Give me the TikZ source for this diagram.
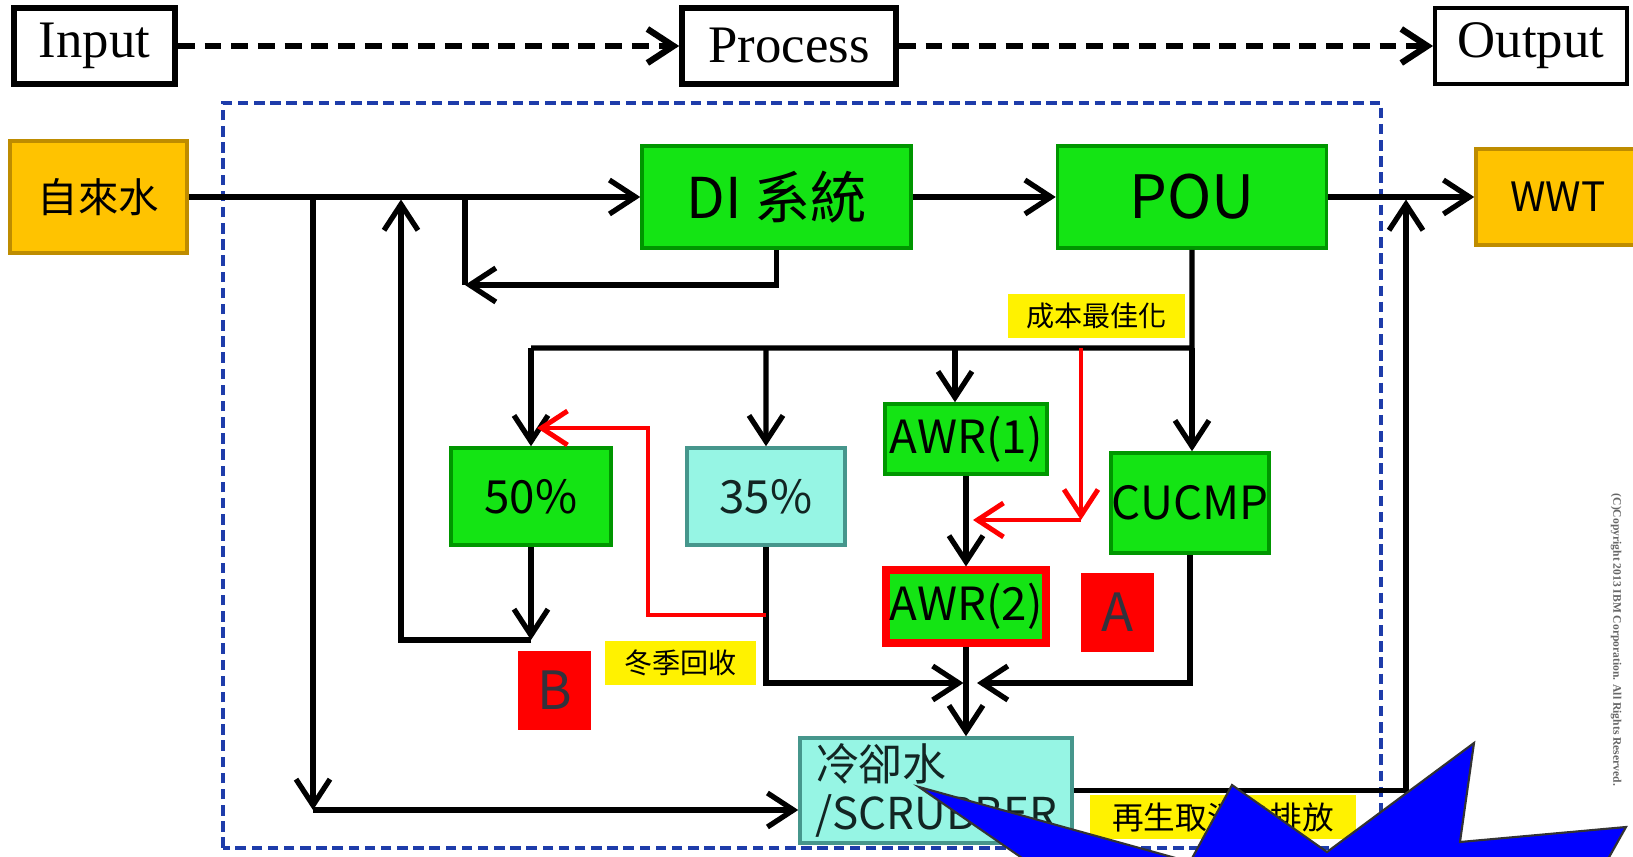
\documentclass[tikz,border=0pt]{standalone}
\usepackage{fontspec}
\setmainfont{Liberation Serif}
\newfontfamily\cjk{Noto Sans CJK TC}
\usetikzlibrary{positioning, arrows.meta}

\definecolor{verdeC}{RGB}{20,228,20}
\definecolor{verdeO}{RGB}{0,150,0}
\definecolor{cianC}{RGB}{150,245,228}
\definecolor{cianO}{RGB}{70,150,140}
\definecolor{oroC}{RGB}{255,195,0}
\definecolor{oroO}{RGB}{190,140,0}
\definecolor{azulM}{RGB}{30,60,170}
\definecolor{grisA}{RGB}{50,50,60}

\begin{document}
\begin{tikzpicture}[>={Straight Barb[length=2.6mm,width=3.4mm]}, line width=1.5pt, on grid]
              \tikzset{
                etapa/.style={draw, line width=1.6pt, inner sep=0pt, minimum height=0.76cm, font=\fontsize{15}{18}\selectfont},
                bloque/.style={draw, line width=1pt, inner sep=0pt, font=\cjk\fontsize{13}{15}\selectfont},
                verde/.style={bloque, fill=verdeC, draw=verdeO},
                cian/.style={bloque, fill=cianC, draw=cianO, text=black!75!cianO},
                oro/.style={bloque, fill=oroC, draw=oroO},
                nota/.style={fill=yellow, inner sep=0pt, minimum height=0.44cm, font=\cjk\fontsize{8}{9}\selectfont},
                marca/.style={fill=red, inner sep=0pt, minimum width=0.73cm, minimum height=0.79cm, text=grisA, font=\cjk\fontsize{15}{17}\selectfont},
                rojo/.style={red, line width=1.4pt}
              }
              \useasboundingbox (0,0) rectangle (16.33,8.57);

              % Fila Input / Process / Output
              \node[etapa, minimum width=1.61cm] (inp) at (0.945,8.11) {Input};
              \node[etapa, minimum width=2.14cm] (proc) [right=6.945cm of inp] {Process};
              \node[etapa, minimum width=1.92cm, line width=1.1pt] (outp) [right=7.42cm of proc] {Output};

              \path[->, dash pattern=on 4.8pt off 2.8pt, line width=1.8pt]
                  (inp) edge (proc)
                  (proc) edge (outp);

              % Marco punteado
              \draw[azulM, line width=1pt, dash pattern=on 3pt off 1.6pt] (2.23,0.09) rectangle (13.81,7.54);

              % Nodos de la fila principal
              \node[oro, minimum width=1.77cm, minimum height=1.12cm, font=\cjk\fontsize{11.5}{13}\selectfont] (agua) at (0.985,6.60) {自來水};
              \node[verde, minimum width=2.69cm, minimum height=1.02cm, font=\cjk\fontsize{16}{18}\selectfont] (di) [right=6.78cm of agua] {DI 系統};
              \node[verde, minimum width=2.69cm, minimum height=1.02cm, font=\cjk\fontsize{17}{19}\selectfont] (pou) [right=4.155cm of di] {POU};
              \node[oro, minimum width=1.64cm, minimum height=0.96cm, font=\cjk\fontsize{11.5}{14}\selectfont] (wwt) [right=3.66cm of pou] {WWT};

              % Nodos intermedios
              \node[verde, minimum width=1.60cm, minimum height=0.97cm] (p50) at (5.31,3.605) {50\%};
              \node[cian, minimum width=1.58cm, minimum height=0.97cm] (p35) [right=2.35cm of p50] {35\%};
              \node[verde, minimum width=1.62cm, minimum height=0.70cm, font=\cjk\fontsize{13}{15}\selectfont] (awr1) at (9.66,4.18) {AWR(1)};
              \node[verde, draw=red, line width=2pt, minimum width=1.60cm, minimum height=0.73cm, font=\cjk\fontsize{13}{15}\selectfont] (awr2) [below=1.675cm of awr1] {AWR(2)};
              \node[verde, minimum width=1.58cm, minimum height=1.00cm, font=\cjk\fontsize{13}{15}\selectfont] (cucmp) at (11.90,3.54) {CUCMP};
              \node[cian, minimum width=2.72cm, minimum height=1.05cm, text width=2.42cm, align=left, font=\cjk\fontsize{12.5}{14}\selectfont] (scrub) at (9.36,0.665) {冷卻水\\/SCRUBBER};

              % Etiquetas
              \node[nota, minimum width=1.77cm] (costo) at (10.965,5.41) {成本最佳化};
              \node[nota, minimum width=1.51cm] (invierno) at (6.805,1.94) {冬季回收};
              \node[nota, minimum width=2.66cm, font=\cjk\fontsize{9}{10}\selectfont] (regen) at (12.23,0.395) {再生取消後排放};
              \node[marca] (etqA) at (11.175,2.445) {A};
              \node[marca] (etqB) at (5.545,1.665) {B};

              % Puntos de cruce
              \coordinate (bajada) at (3.13,6.60);
              \coordinate (esqA) at (3.13,0.47);
              \coordinate (subida) at (4.01,6.575);
              \coordinate (esqB) at (4.01,2.17);
              \coordinate (fin50) at (5.31,2.17);
              \coordinate (diA) at (4.65,6.60);
              \coordinate (diB) at (4.65,5.72);
              \coordinate (reparto) at (11.92,5.09);
              \coordinate (rep50) at (5.31,5.09);
              \coordinate (rep35) at (7.66,5.09);
              \coordinate (rep1) at (9.55,5.09);
              \coordinate (juntaI) at (9.635,1.74);
              \coordinate (juntaD) at (9.77,1.74);
              \coordinate (subeW) at (14.06,6.575);

              % Transiciones de la fila principal
              \path[->]
                  (agua) edge (di)
                  (di) edge (pou)
                  (pou) edge (wwt);

              % Derivaciones y retornos
              \draw[->] (bajada) -- (esqA);
              \draw[->] (esqA) -- (esqA -| scrub.west);
              \draw (diB) -- (diA);
              \draw[->] (di.south) |- (diB);
              \draw[->] (p50.south) -- (fin50);
              \draw[->] (fin50) -- (esqB) -- (subida);

              % Reparto desde POU
              \draw (pou.south) -- (reparto) -- (rep50);
              \path[->]
                  (rep50) edge (p50.north)
                  (rep35) edge (p35.north)
                  (rep1) edge (rep1 |- awr1.north)
                  (reparto) edge (reparto |- cucmp.north)
                  (awr1) edge (awr2);

              % Hacia el agua de enfriamiento
              \draw[->] (p35.south) |- (juntaI);
              \draw[->] (cucmp.south) |- (juntaD);
              \draw[->] (awr2.south) -- (awr2.south |- scrub.north);
              \draw[->] (scrub.east) -| (subeW);

              % Lineas rojas
              \coordinate (rojoA) at (10.81,5.09);
              \coordinate (rojoB) at (10.81,3.37);
              \coordinate (rojoC) at (9.73,3.37);
              \coordinate (rojoD) at (7.66,2.42);
              \coordinate (rojoE) at (6.48,2.42);
              \coordinate (rojoF) at (6.48,4.29);
              \coordinate (rojoG) at (5.37,4.29);
              \draw[rojo, ->] (rojoA) -- (rojoB);
              \draw[rojo, ->] (rojoB) -- (rojoC);
              \draw[rojo, ->] (rojoD) -- (rojoE) -- (rojoF) -- (rojoG);

              % Nota de copyright
              \node[rotate=-90, font=\fontsize{3.3}{4}\selectfont\bfseries, text=black!60] (copia) at (16.16,2.17) {(C)Copyright 2013 IBM Corporation. All Rights Reserved.};

              % Estrella azul
              \filldraw[fill=blue, draw=black!80, line width=0.6pt]
                  (9.19,0.70) -- (11.90,-0.05) -- (12.32,0.72) -- (13.27,0.05) -- (14.74,1.14)
                  -- (14.60,0.15) -- (16.26,0.30) -- (15.85,-0.43) -- (10.83,-0.43) -- cycle;

          \end{tikzpicture}
\end{document}
